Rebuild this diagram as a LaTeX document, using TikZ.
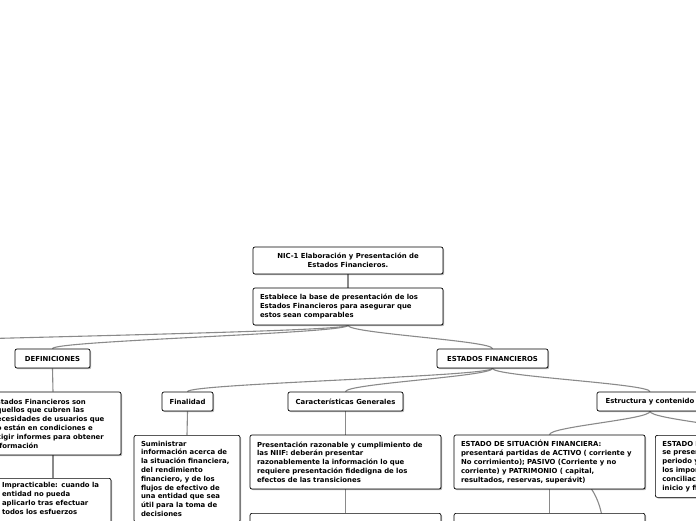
\documentclass[tikz,border=0pt]{standalone}
\usepackage{fontspec}
\setmainfont{DejaVu Sans}
\usetikzlibrary{shadows,backgrounds}
\definecolor{conncol}{HTML}{8A8A8A}
\newcommand{\fnt}{\fontsize{6.9}{8.8}\selectfont\bfseries}
\tikzset{
  box/.style={draw=black, line width=0.7pt, rounded corners=2pt, fill=white,
    drop shadow={shadow xshift=1.2pt, shadow yshift=-1.2pt, fill=black, opacity=0.3},
    font=\fnt, inner xsep=7pt, inner ysep=2pt, align=left},
  cbox/.style={box, align=center},
  conn/.style={draw=conncol, line width=1.1pt},
}
\begin{document}
\begin{tikzpicture}[x=1pt,y=-1pt]
\useasboundingbox (0,0) rectangle (696,520);
\clip (0,0) rectangle (696,520);
% nodes
\node[cbox, minimum width=190pt, minimum height=27pt] (title) at (348,260.5)
  {NIC-1 Elaboración y Presentación de\\Estados Financieros.};
\node[box, text width=176pt, minimum height=37pt] (base) at (348,306.5)
  {Establece la base de presentación de los\\Estados Financieros para asegurar que\\estos sean comparables};
\node[cbox, minimum width=75pt, minimum height=19pt] (defin) at (52.5,358.5) {DEFINICIONES};
\node[cbox, minimum width=111pt, minimum height=19pt] (estfin) at (492.5,358.5) {ESTADOS FINANCIEROS};
\node[box, text width=122pt, minimum height=63pt] (efson) at (53,423.5)
  {Estados Financieros son\\aquellos que cubren las\\necesidades de usuarios que\\no están en condiciones e\\exigir informes para obtener\\información};
\node[box, text width=102pt, inner ysep=4pt, anchor=north] (impr) at (53,478)
  {Impracticable: cuando la\\entidad no pueda\\aplicarlo tras efectuar\\todos los esfuerzos\\\mbox{}};
\node[cbox, minimum width=51pt, minimum height=19pt] (finalidad) at (187.5,401.5) {Finalidad};
\node[cbox, minimum width=115pt, minimum height=19pt] (caract) at (345.5,401.5) {Características Generales};
\node[cbox, minimum width=106pt, minimum height=19pt] (estruct) at (650,401.5) {Estructura y contenido};
\node[box, text width=92pt, inner ysep=5.5pt, anchor=north] (sumin) at (187,435)
  {Suministrar\\información acerca de\\la situación financiera,\\del rendimiento\\financiero, y de los\\flujos de efectivo de\\una entidad que sea\\útil para la toma de\\decisiones};
\node[box, text width=177pt, minimum height=54pt] (present) at (345.5,462)
  {Presentación razonable y cumplimiento de\\las NIIF: deberán presentar\\razonablemente la información lo que\\requiere presentación fidedigna de los\\efectos de las transiciones};
\node[box, text width=177pt, minimum height=54pt, anchor=north] (presbelow) at (345.5,513) {};
\node[box, text width=177pt, minimum height=54pt] (esf) at (549.5,462)
  {ESTADO DE SITUACIÓN FINANCIERA:\\presentará partidas de ACTIVO ( corriente y\\No corrimiento); PASIVO (Corriente y no\\corriente) y PATRIMONIO ( capital,\\resultados, reservas, superávit)};
\node[box, text width=177pt, minimum height=54pt, anchor=north] (esfbelow) at (549.5,513) {};
\node[box, text width=182pt, minimum height=62pt, anchor=north west] (ecp) at (655,435)
  {ESTADO DE CAMBIOS EN EL PATRIMONIO:\\se presentará el resultado del\\periodo y los efectos de\\los importes reconocidos,\\conciliación entre los importes al\\inicio y final del periodo};
\coordinate (offl) at (-260,349);
\coordinate (hid) at (604,540);
% connectors (behind nodes)
\begin{pgfonlayer}{background}
\draw[conn] (title.south) -- (base.north);
\draw[conn] (base.south) .. controls +(0,8) and +(0,-8) .. (defin.north);
\draw[conn] (base.south) .. controls +(0,8) and +(0,-8) .. (offl);
\draw[conn] (base.south) .. controls +(0,8) and +(0,-8) .. (estfin.north);
\draw[conn] (defin.south) -- (efson.north);
\draw[conn] (efson.south) -- (impr.north);
\draw[conn] (estfin.south) .. controls +(0,8) and +(0,-8) .. (finalidad.north);
\draw[conn] (estfin.south) .. controls +(0,8) and +(0,-8) .. (caract.north);
\draw[conn] (estfin.south) .. controls +(0,8) and +(0,-8) .. (estruct.north);
\draw[conn] (finalidad.south) -- (sumin.north);
\draw[conn] (caract.south) -- (present.north);
\draw[conn] (present.south) -- (presbelow.north);
\draw[conn] (estruct.south) .. controls +(0,8) and +(0,-8) .. (esf.north);
\draw[conn] (estruct.south) .. controls +(0,8) and +(0,-8) .. (ecp.north);
\draw[conn] (esf.south) -- (esfbelow.north);
\draw[conn] (esf.center) .. controls (590,472) and (604,500) .. (hid);
\end{pgfonlayer}
\end{tikzpicture}
\end{document}
